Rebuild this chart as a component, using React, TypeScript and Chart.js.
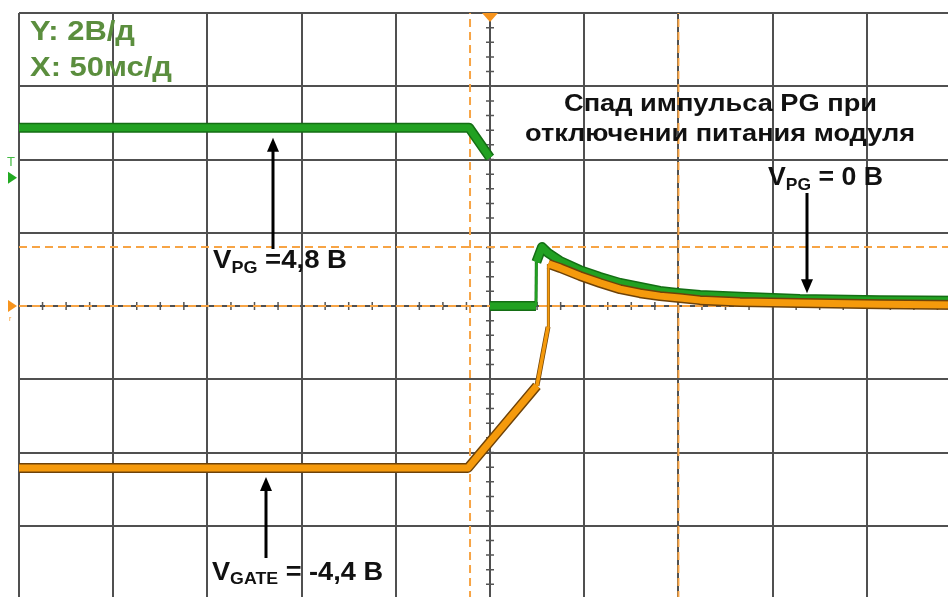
import React, { useEffect, useRef } from "react";
import { Chart, registerables } from "chart.js";

Chart.register(...registerables);

// Oscilloscope screen: 50 ms/div (10 div), 2 V/div (8 div)
const timeMinMs = -250;
const timeMaxMs = 250;
const timeStepMs = 50;
const voltMin = -8;
const voltMax = 8;
const voltStep = 2;

// V_PG trace (green); null = instantaneous drop (no visible trace)
const pgTimeMs = [-250, -11.1, 0, 0, 0, 24.4, 24.6, 27.6, 30.8, 37.2, 47.8, 58.4, 69.0, 79.6, 90.2, 100.8, 111.5, 132.7, 164.5, 207, 250];
const pgVolts: (number | null)[] = [4.87, 4.87, 4.05, null, 0.0, 0.0, 1.2, 1.61, 1.45, 1.23, 0.98, 0.79, 0.63, 0.52, 0.41, 0.35, 0.3, 0.25, 0.19, 0.16, 0.14];

// V_GATE trace (orange)
const gateTimeMs = [-250, -11.7, 24.9, 30.8, 31.0, 37.2, 47.8, 58.4, 69.0, 79.6, 90.2, 100.8, 111.5, 132.7, 164.5, 207, 250];
const gateVolts = [-4.42, -4.42, -2.18, -0.57, 1.15, 1.04, 0.82, 0.63, 0.46, 0.35, 0.27, 0.22, 0.16, 0.11, 0.08, 0.05, 0.03];

// Cursors (orange dashed)
const cursorTimesMs = [-10.6, 100];
const cursorLevelsV = [1.61, 0];

// Texts
const scaleLabels = ["Y: 2В/д", "X: 50мс/д"];
const noteLines = ["Спад импульса PG при", "отключении питания модуля"];

const FONT = '"Liberation Sans", Arial, sans-serif';

type Part = { text: string; size: number; dy?: number };

function drawFitted(ctx: CanvasRenderingContext2D, parts: Part[], left: number, right: number, baseline: number, color: string) {
  ctx.save();
  ctx.fillStyle = color;
  ctx.textBaseline = "alphabetic";
  ctx.textAlign = "left";
  let total = 0;
  const widths = parts.map((p) => {
    ctx.font = `bold ${p.size}px ${FONT}`;
    const w = ctx.measureText(p.text).width;
    total += w;
    return w;
  });
  const sx = (right - left) / total;
  ctx.translate(left, baseline);
  ctx.scale(sx, 1);
  let x = 0;
  parts.forEach((p, i) => {
    ctx.font = `bold ${p.size}px ${FONT}`;
    ctx.fillText(p.text, x, p.dy || 0);
    x += widths[i];
  });
  ctx.restore();
}

function drawArrow(ctx: CanvasRenderingContext2D, x: number, yTail: number, yTip: number) {
  const dir = yTip < yTail ? -1 : 1;
  const headLen = 14;
  const headHalf = 6;
  ctx.save();
  ctx.strokeStyle = "#000";
  ctx.fillStyle = "#000";
  ctx.lineWidth = 3;
  ctx.beginPath();
  ctx.moveTo(x, yTail);
  ctx.lineTo(x, yTip - dir * headLen + dir * 2);
  ctx.stroke();
  ctx.beginPath();
  ctx.moveTo(x, yTip);
  ctx.lineTo(x - headHalf, yTip - dir * headLen);
  ctx.lineTo(x + headHalf, yTip - dir * headLen);
  ctx.closePath();
  ctx.fill();
  ctx.restore();
}

const scopePlugin = {
  id: "scope",
  beforeDatasetsDraw(chart: any) {
    const ctx: CanvasRenderingContext2D = chart.ctx;
    const xs = chart.scales.x;
    const ys = chart.scales.y;
    const cx = xs.getPixelForValue(0);
    const cy = ys.getPixelForValue(0);
    ctx.save();
    ctx.strokeStyle = "#555";
    ctx.lineWidth = 1.5;
    ctx.beginPath();
    for (let t = timeMinMs; t <= timeMaxMs; t += timeStepMs / 4) {
      const px = xs.getPixelForValue(t);
      ctx.moveTo(px, cy - 4);
      ctx.lineTo(px, cy + 4);
    }
    for (let v = voltMin; v <= voltMax + 1e-6; v += voltStep / 5) {
      const py = ys.getPixelForValue(v);
      ctx.moveTo(cx - 4, py);
      ctx.lineTo(cx + 4, py);
    }
    ctx.stroke();
    ctx.restore();
  },
  afterDraw(chart: any) {
    const ctx: CanvasRenderingContext2D = chart.ctx;
    const xs = chart.scales.x;
    const ys = chart.scales.y;
    const top = chart.chartArea.top;
    const cx = xs.getPixelForValue(0);
    const cy = ys.getPixelForValue(0);

    ctx.save();
    // trigger marker at top
    ctx.fillStyle = "#f7941d";
    ctx.beginPath();
    ctx.moveTo(cx - 8, top);
    ctx.lineTo(cx + 8, top);
    ctx.lineTo(cx, top + 9);
    ctx.closePath();
    ctx.fill();
    // orange ground marker at left
    ctx.beginPath();
    ctx.moveTo(8, cy - 6);
    ctx.lineTo(17, cy);
    ctx.lineTo(8, cy + 6);
    ctx.closePath();
    ctx.fill();
    ctx.font = `7px ${FONT}`;
    ctx.fillText("r", 9, cy + 15);
    // green trigger level marker
    const gy = ys.getPixelForValue(3.5);
    ctx.fillStyle = "#22aa22";
    ctx.beginPath();
    ctx.moveTo(8, gy - 6);
    ctx.lineTo(17, gy);
    ctx.lineTo(8, gy + 6);
    ctx.closePath();
    ctx.fill();
    ctx.fillStyle = "#44bb44";
    ctx.font = `13px ${FONT}`;
    ctx.textAlign = "left";
    ctx.textBaseline = "alphabetic";
    ctx.fillText("T", 7, gy - 12);
    ctx.restore();

    // scale labels
    drawFitted(ctx, [{ text: scaleLabels[0], size: 28 }], 30, 135, 40, "#5b8e3e");
    drawFitted(ctx, [{ text: scaleLabels[1], size: 28 }], 30, 172, 76, "#5b8e3e");

    // note
    drawFitted(ctx, [{ text: noteLines[0], size: 23 }], 564, 877, 111, "#111");
    drawFitted(ctx, [{ text: noteLines[1], size: 23 }], 525, 915, 141, "#111");

    // value labels
    drawFitted(ctx, [{ text: "V", size: 26 }, { text: "PG", size: 17, dy: 5 }, { text: " =4,8 В", size: 26 }], 213, 347, 268, "#111");
    drawFitted(ctx, [{ text: "V", size: 26 }, { text: "PG", size: 17, dy: 5 }, { text: " = 0 В", size: 26 }], 768, 883, 185, "#111");
    drawFitted(ctx, [{ text: "V", size: 26 }, { text: "GATE", size: 17, dy: 4 }, { text: " = -4,4 В", size: 26 }], 212, 383, 580, "#111");

    // arrows
    drawArrow(ctx, 273, 249, ys.getPixelForValue(4.87) + 10);
    drawArrow(ctx, 807, 193, ys.getPixelForValue(0.35));
    drawArrow(ctx, 266, 558, ys.getPixelForValue(-4.42) + 9);
  },
};

function pts(xs: number[], ys: (number | null)[]) {
  return xs.map((x, i) => ({ x, y: ys[i] }));
}

function segWidth(base: number) {
  return (c: any) => {
    const dx = Math.abs(c.p1.x - c.p0.x);
    const dy = Math.abs(c.p1.y - c.p0.y);
    if (dx < 2.5) return base * 0.3;
    if (dy / dx > 3) return base * 0.5;
    return undefined;
  };
}

export default function App() {
  const ref = useRef<HTMLCanvasElement>(null);
  useEffect(() => {
    const canvas = ref.current!;
    const gridColor = "#505050";
    const cursorStyle = {
      borderColor: "#f7a445",
      borderWidth: 2,
      borderDash: [8, 5],
      pointRadius: 0,
      fill: false,
    };
    const chart = new Chart(canvas, {
      type: "line",
      data: {
        datasets: [
          ...cursorTimesMs.map((t) => ({
            ...cursorStyle,
            data: [
              { x: t, y: voltMin },
              { x: t, y: voltMax },
            ],
            order: 20,
          })),
          ...cursorLevelsV.map((v) => ({
            ...cursorStyle,
            data: [
              { x: timeMinMs, y: v },
              { x: timeMaxMs, y: v },
            ],
            order: 20,
          })),
          {
            data: pts(pgTimeMs, pgVolts),
            borderColor: "#146e14",
            borderWidth: 10,
            pointRadius: 0,
            spanGaps: false,
            borderJoinStyle: "round",
            segment: { borderWidth: segWidth(10) },
            order: 6,
          },
          {
            data: pts(pgTimeMs, pgVolts),
            borderColor: "#22a122",
            borderWidth: 7,
            pointRadius: 0,
            spanGaps: false,
            borderJoinStyle: "round",
            segment: { borderWidth: segWidth(7) },
            order: 5,
          },
          {
            data: pts(gateTimeMs, gateVolts),
            borderColor: "#6e4208",
            borderWidth: 10,
            pointRadius: 0,
            borderJoinStyle: "round",
            segment: { borderWidth: segWidth(10) },
            order: 4,
          },
          {
            data: pts(gateTimeMs, gateVolts),
            borderColor: "#f59a0c",
            borderWidth: 7,
            pointRadius: 0,
            borderJoinStyle: "round",
            segment: { borderWidth: segWidth(7) },
            order: 3,
          },
        ] as any,
      },
      options: {
        responsive: false,
        animation: false,
        events: [],
        layout: { padding: { left: 19, top: 13, right: 1, bottom: 1 } },
        plugins: { legend: { display: false }, tooltip: { enabled: false } },
        scales: {
          x: {
            type: "linear",
            min: timeMinMs,
            max: timeMaxMs,
            ticks: { display: false, stepSize: timeStepMs },
            grid: { color: gridColor, lineWidth: 2, drawTicks: false },
            border: { display: false },
          },
          y: {
            type: "linear",
            min: voltMin,
            max: voltMax,
            ticks: { display: false, stepSize: voltStep },
            grid: { color: gridColor, lineWidth: 2, drawTicks: false },
            border: { display: false },
          },
        },
      },
      plugins: [scopePlugin],
    });
    return () => chart.destroy();
  }, []);

  return (
    <div style={{ position: "fixed", left: 0, top: 0, width: 948, height: 597, overflow: "hidden", background: "#fff" }}>
      <canvas ref={ref} width={962} height={600} style={{ display: "block", width: 962, height: 600 }} />
    </div>
  );
}
